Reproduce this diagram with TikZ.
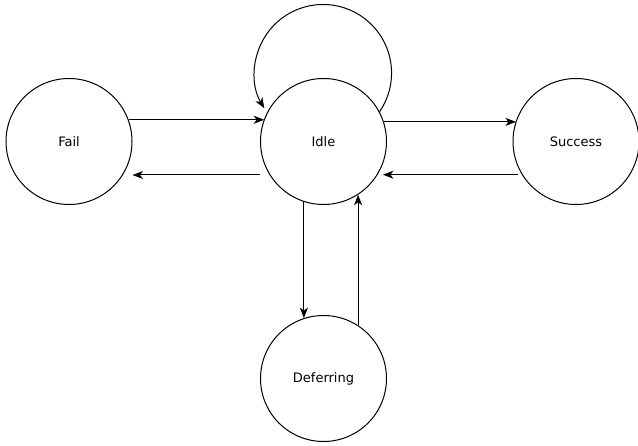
\documentclass[tikz,border=0pt]{standalone}
\usepackage{fontspec}
\setmainfont{DejaVu Sans}
\usetikzlibrary{arrows.meta}
\begin{document}
\begin{tikzpicture}[x=1pt,y=1pt,
  state/.style={circle,draw,line width=1pt,minimum size=126pt,inner sep=0pt,font=\fontsize{13}{15}\selectfont},
  arr/.style={line width=1pt,-{Stealth[length=10.5pt,width=8pt,inset=3pt]}}]
\useasboundingbox (0,0) rectangle (638,445);
\node[state] (fail) at (69,303.5) {Fail};
\node[state] (idle) at (323.5,303.5) {Idle};
\node[state] (success) at (576,303.5) {Success};
\node[state] (deferring) at (323.5,66.5) {Deferring};
% self loop
\draw[arr] (idle.28) arc[start angle=-34.4, end angle=211, radius=68.5];
% Fail <-> Idle
\draw[arr] (fail.20.6) -- (fail.20.6 -| idle.159.5);
\draw[arr] ([yshift=-33.5pt]idle.west) -- ([yshift=-33.5pt]fail.east);
% Idle <-> Success
\draw[arr] (idle.18.2) -- (idle.18.2 -| success.161.4);
\draw[arr] ([xshift=5pt,yshift=-33.2pt]success.west) -- ([xshift=5pt,yshift=-33.2pt]success.west -| idle.-31.5);
% Idle <-> Deferring
\draw[arr] (idle.-108.5) -- (idle.-108.5 |- deferring.108.9);
\draw[arr] (deferring.57.3) -- (deferring.57.3 |- idle.-57.8);
\end{tikzpicture}
\end{document}
